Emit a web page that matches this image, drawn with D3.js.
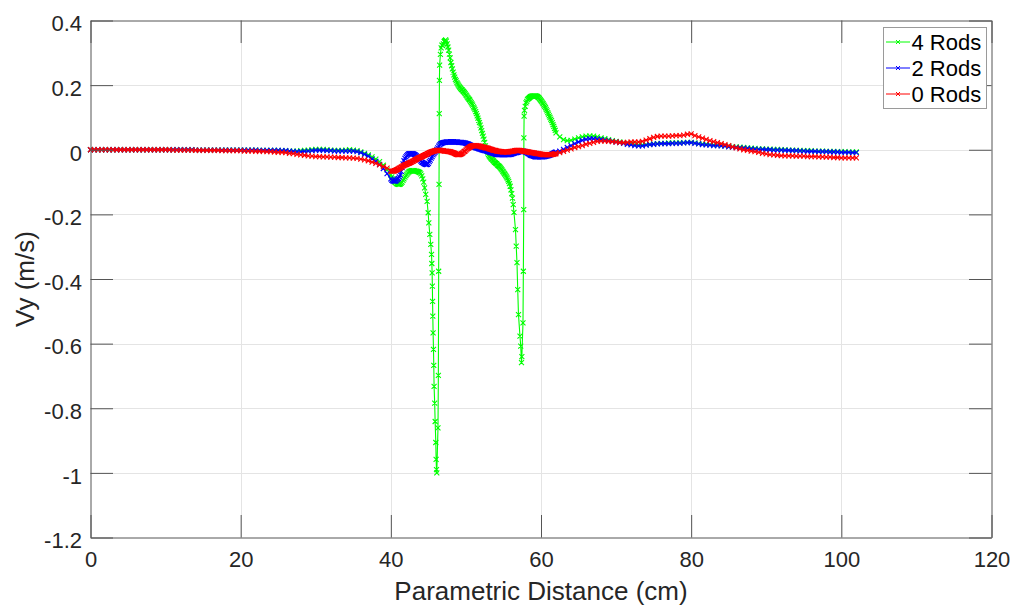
<!DOCTYPE html>
<html>
<head>
<meta charset="utf-8">
<script src="https://cdn.jsdelivr.net/npm/d3@7"></script>
<style>
  body { margin: 0; background: #fff; }
  svg { display: block; font-family: "Liberation Sans", Arial, Helvetica, sans-serif; }
</style>
</head>
<body>
<svg id="chart" width="1016" height="607"></svg>
<script>
// Axis ticks
const xTicks = [0, 20, 40, 60, 80, 100, 120];
const yTicks = [-1.2, -1, -0.8, -0.6, -0.4, -0.2, 0, 0.2, 0.4];

const seriesNames = ["4 Rods", "2 Rods", "0 Rods"];
const seriesColors = ["#00ff00", "#0000ff", "#ff0000"];

// Vy (m/s) sampled every 0.5 cm from 0 to 39.5 cm
const rods4Head = [
  0,0,0,0,0,0,0,0,0,0, 0,0,0,0,0,0,0,0,0,0,
  0,0,0,0,0,0,0,0,-0.001,-0.001, -0.001,-0.001,-0.001,-0.001,-0.001,-0.001,-0.001,-0.001,-0.001,-0.001,
  -0.001,-0.001,-0.001,-0.001,-0.001,-0.002,-0.002,-0.002,-0.002,-0.002, -0.002,-0.003,-0.003,-0.004,-0.004,-0.004,-0.003,-0.002,-0.001,0,
  0.001,0.001,0.001,0,-0.001,-0.002,-0.002,-0.002,-0.001,0, -0.001,-0.003,-0.007,-0.011,-0.016,-0.022,-0.029,-0.037,-0.048,-0.062
];
const rods2Head = [
  0,0,0,0,0,0,0,0,0,0, 0,0,0,0,0,0,0,0,0,0,
  0,0,0,0,0,0,0,0,-0.001,-0.001, -0.001,-0.001,-0.001,-0.001,-0.001,-0.001,-0.001,-0.001,-0.001,-0.001,
  -0.001,-0.001,-0.001,-0.001,-0.001,-0.002,-0.002,-0.002,-0.002,-0.002, -0.002,-0.003,-0.003,-0.004,-0.005,-0.006,-0.006,-0.005,-0.004,-0.003,
  -0.002,-0.002,-0.002,-0.003,-0.003,-0.004,-0.004,-0.004,-0.004,-0.004, -0.004,-0.006,-0.009,-0.014,-0.02,-0.028,-0.036,-0.045,-0.058,-0.074
];
const rods0Head = [
  0,0,0,0,0,0,0,0,0,0, 0,0,0,0,0,0,0,0,0,0,
  0,0,-0.001,-0.001,-0.001,-0.001,-0.001,-0.001,-0.002,-0.002, -0.002,-0.002,-0.002,-0.002,-0.002,-0.003,-0.003,-0.003,-0.003,-0.003,
  -0.003,-0.004,-0.004,-0.004,-0.005,-0.005,-0.005,-0.006,-0.006,-0.007, -0.008,-0.008,-0.009,-0.011,-0.012,-0.014,-0.016,-0.017,-0.019,-0.02,
  -0.021,-0.021,-0.022,-0.022,-0.023,-0.023,-0.024,-0.024,-0.025,-0.025, -0.026,-0.027,-0.029,-0.031,-0.034,-0.038,-0.042,-0.047,-0.052,-0.057
];

// 4 rods, 40 to 44.375 cm, every 0.125 cm
const rods4Entry = [
  -0.078,-0.084,-0.09,-0.095,-0.099,-0.102,-0.105,-0.106,
  -0.107,-0.107,-0.106,-0.103,-0.1,-0.095,-0.09,-0.085,
  -0.08,-0.076,-0.072,-0.069,-0.067,-0.066,-0.065,-0.065,
  -0.065,-0.065,-0.066,-0.066,-0.067,-0.068,-0.069,-0.071,
  -0.075,-0.081,-0.09,-0.1
];
// 4 rods, first dip and recovery: [distance, Vy]
const rods4Dip1 = [
  [44.5,-0.118],[44.65,-0.138],[44.83,-0.16],[44.97,-0.195],[45.06,-0.226],[45.19,-0.262],[45.32,-0.293],[45.42,-0.324],
  [45.46,-0.352],[45.5,-0.381],[45.53,-0.422],[45.56,-0.469],[45.59,-0.515],[45.63,-0.567],[45.68,-0.618],[45.72,-0.667],
  [45.76,-0.732],[45.84,-0.784],[45.9,-0.841],[45.99,-0.906],[46.03,-0.958],[46.08,-0.99],[46.12,-1.0],[46.28,-0.861],
  [46.33,-0.698],[46.37,-0.376],[46.42,-0.107],[46.45,0.112],[46.47,0.215]
];
// 4 rods, 46.5 to 56.3 cm, every 0.1 cm
const rods4Crest = [
  0.262,0.295,0.315,0.324,0.322,0.328,0.335,0.338,0.34,0.336,
  0.328,0.318,0.308,0.296,0.284,0.27,0.26,0.25,0.24,0.232,
  0.225,0.218,0.213,0.208,0.204,0.2,0.196,0.193,0.19,0.187,
  0.185,0.182,0.18,0.177,0.174,0.17,0.167,0.163,0.16,0.157,
  0.154,0.15,0.146,0.142,0.138,0.133,0.129,0.124,0.118,0.112,
  0.105,0.098,0.091,0.084,0.076,0.068,0.059,0.051,0.042,0.033,
  0.023,0.012,0.004,-0.003,-0.01,-0.015,-0.019,-0.022,-0.025,-0.028,
  -0.03,-0.033,-0.035,-0.038,-0.04,-0.042,-0.044,-0.047,-0.049,-0.051,
  -0.053,-0.056,-0.059,-0.062,-0.066,-0.069,-0.073,-0.076,-0.08,-0.084,
  -0.088,-0.093,-0.098,-0.105,-0.113,-0.124,-0.136,-0.15,-0.17
];
// 4 rods, second dip and recovery: [distance, Vy]
const rods4Dip2 = [
  [56.4,-0.194],[56.6,-0.247],[56.7,-0.298],[56.8,-0.349],[56.9,-0.433],[57,-0.51],[57.2,-0.577],[57.3,-0.608],
  [57.4,-0.659],[57.45,-0.64],[57.6,-0.536],[57.65,-0.376],[57.7,-0.185],[57.72,0.037],[57.75,0.104]
];
// 4 rods, 57.8 to 61.9 cm, every 0.1 cm
const rods4Hump = [
  0.122,0.134,0.145,0.15,0.155,0.158,0.16,0.162,0.164,0.165,
  0.166,0.167,0.167,0.167,0.167,0.167,0.166,0.165,0.163,0.161,
  0.158,0.155,0.152,0.149,0.145,0.142,0.138,0.134,0.13,0.125,
  0.12,0.115,0.11,0.105,0.1,0.095,0.09,0.084,0.078,0.072,
  0.066,0.06
];

// 2 rods and 0 rods, 40 to 61.875 cm, every 0.125 cm (one row per cm)
const rods2Mid = [
  -0.09,-0.094,-0.096,-0.097,-0.097,-0.097,-0.095,-0.092,
  -0.089,-0.084,-0.078,-0.067,-0.055,-0.044,-0.034,-0.027,
  -0.022,-0.018,-0.015,-0.013,-0.012,-0.012,-0.012,-0.012,
  -0.013,-0.014,-0.016,-0.018,-0.021,-0.024,-0.028,-0.031,
  -0.035,-0.038,-0.04,-0.042,-0.044,-0.045,-0.046,-0.045,
  -0.042,-0.037,-0.032,-0.026,-0.021,-0.016,-0.012,-0.008,
  -0.004,0.001,0.006,0.011,0.015,0.018,0.02,0.021,
  0.022,0.023,0.023,0.024,0.024,0.024,0.024,0.024,
  0.024,0.024,0.024,0.024,0.024,0.024,0.024,0.024,
  0.023,0.023,0.023,0.023,0.022,0.022,0.021,0.021,
  0.02,0.019,0.018,0.017,0.015,0.014,0.012,0.011,
  0.009,0.008,0.007,0.006,0.005,0.004,0.003,0.002,
  0.001,0,-0.001,-0.002,-0.003,-0.003,-0.004,-0.005,
  -0.006,-0.007,-0.008,-0.009,-0.01,-0.011,-0.012,-0.013,
  -0.014,-0.014,-0.015,-0.015,-0.015,-0.015,-0.015,-0.015,
  -0.015,-0.015,-0.015,-0.015,-0.015,-0.015,-0.015,-0.014,
  -0.014,-0.013,-0.012,-0.011,-0.01,-0.009,-0.009,-0.008,
  -0.007,-0.006,-0.005,-0.004,-0.004,-0.004,-0.005,-0.006,
  -0.008,-0.009,-0.011,-0.013,-0.015,-0.017,-0.018,-0.019,
  -0.02,-0.021,-0.022,-0.022,-0.022,-0.022,-0.022,-0.022,
  -0.022,-0.022,-0.022,-0.021,-0.021,-0.02,-0.02,-0.019,
  -0.018,-0.017,-0.016,-0.014,-0.013,-0.011,-0.01,-0.008
];
const rods0Mid = [
  -0.066,-0.066,-0.066,-0.066,-0.065,-0.064,-0.062,-0.061,
  -0.059,-0.057,-0.056,-0.054,-0.052,-0.05,-0.049,-0.047,
  -0.046,-0.045,-0.043,-0.042,-0.041,-0.039,-0.038,-0.036,
  -0.035,-0.033,-0.031,-0.03,-0.028,-0.026,-0.025,-0.024,
  -0.023,-0.021,-0.02,-0.018,-0.017,-0.015,-0.014,-0.012,
  -0.011,-0.009,-0.008,-0.007,-0.006,-0.005,-0.004,-0.003,
  -0.003,-0.002,-0.002,-0.002,-0.002,-0.002,-0.003,-0.003,
  -0.003,-0.004,-0.004,-0.004,-0.005,-0.005,-0.006,-0.006,
  -0.007,-0.008,-0.009,-0.01,-0.011,-0.013,-0.014,-0.015,
  -0.015,-0.015,-0.014,-0.013,-0.011,-0.009,-0.006,-0.004,
  -0.001,0.002,0.004,0.006,0.008,0.01,0.011,0.012,
  0.013,0.013,0.013,0.013,0.012,0.012,0.011,0.011,
  0.01,0.009,0.008,0.008,0.007,0.006,0.006,0.005,
  0.004,0.003,0.002,0.001,0,-0.001,-0.002,-0.002,
  -0.003,-0.004,-0.004,-0.005,-0.005,-0.006,-0.006,-0.007,
  -0.007,-0.007,-0.007,-0.007,-0.007,-0.007,-0.006,-0.006,
  -0.005,-0.005,-0.004,-0.004,-0.003,-0.003,-0.002,-0.002,
  -0.002,-0.002,-0.003,-0.003,-0.004,-0.004,-0.005,-0.005,
  -0.006,-0.006,-0.007,-0.007,-0.008,-0.008,-0.009,-0.009,
  -0.01,-0.01,-0.011,-0.011,-0.012,-0.012,-0.013,-0.013,
  -0.014,-0.014,-0.015,-0.015,-0.015,-0.015,-0.015,-0.015,
  -0.015,-0.015,-0.015,-0.015,-0.014,-0.014,-0.013,-0.013
];

// Vy sampled every 0.5 cm from 62 to 102 cm
const rods4Tail = [
  0.052,0.04,0.031,0.028,0.029,0.033,0.037,0.04,0.042,0.043,
  0.042,0.04,0.037,0.034,0.031,0.028,0.026,0.024,0.022,0.02,
  0.018,0.016,0.015,0.015,0.016,0.017,0.018,0.019,0.02,0.02,
  0.021,0.021,0.021,0.022,0.022,0.023,0.023,0.021,0.019,0.018,
  0.017,0.016,0.015,0.014,0.013,0.012,0.011,0.01,0.009,0.008,
  0.007,0.006,0.005,0.004,0.003,0.003,0.002,0.002,0.001,0.001,
  0,0,-0.001,-0.001,-0.002,-0.002,-0.003,-0.003,-0.003,-0.004,
  -0.004,-0.004,-0.005,-0.005,-0.005,-0.006,-0.006,-0.006,-0.007,-0.007,
  -0.007
];
const rods2Tail = [
  -0.007,-0.004,0.001,0.007,0.013,0.019,0.024,0.029,0.032,0.034,
  0.034,0.033,0.032,0.03,0.028,0.026,0.024,0.022,0.02,0.017,
  0.015,0.013,0.012,0.012,0.014,0.016,0.017,0.018,0.019,0.019,
  0.019,0.02,0.02,0.02,0.021,0.022,0.022,0.02,0.018,0.016,
  0.015,0.014,0.013,0.013,0.012,0.011,0.009,0.008,0.007,0.006,
  0.005,0.004,0.003,0.002,0.001,0.001,0,0,-0.001,-0.001,
  -0.001,-0.002,-0.002,-0.003,-0.003,-0.004,-0.004,-0.005,-0.005,-0.005,
  -0.006,-0.006,-0.006,-0.007,-0.007,-0.007,-0.008,-0.008,-0.008,-0.009,
  -0.009
];
const rods0Tail = [
  -0.012,-0.009,-0.005,-0.001,0.003,0.007,0.01,0.013,0.017,0.02,
  0.023,0.026,0.027,0.027,0.026,0.025,0.024,0.022,0.022,0.023,
  0.024,0.024,0.024,0.026,0.03,0.034,0.038,0.041,0.042,0.042,
  0.042,0.043,0.044,0.044,0.045,0.048,0.049,0.044,0.04,0.036,
  0.032,0.028,0.025,0.022,0.019,0.016,0.013,0.009,0.006,0.003,
  0,-0.002,-0.004,-0.006,-0.008,-0.011,-0.013,-0.015,-0.016,-0.017,
  -0.018,-0.019,-0.019,-0.019,-0.02,-0.02,-0.02,-0.021,-0.021,-0.021,
  -0.022,-0.022,-0.023,-0.023,-0.024,-0.024,-0.025,-0.025,-0.025,-0.025,
  -0.025
];

// ---- helpers -------------------------------------------------------------
// pair each value with its distance along an evenly sampled run
const sampled = (start, step, values) => values.map((v, i) => [+(start + i * step).toFixed(3), v]);

const series = [
  [].concat(
    sampled(0, 0.5, rods4Head), sampled(40, 0.125, rods4Entry), rods4Dip1,
    sampled(46.5, 0.1, rods4Crest), rods4Dip2, sampled(57.8, 0.1, rods4Hump),
    sampled(62, 0.5, rods4Tail)),
  [].concat(sampled(0, 0.5, rods2Head), sampled(40, 0.125, rods2Mid), sampled(62, 0.5, rods2Tail)),
  [].concat(sampled(0, 0.5, rods0Head), sampled(40, 0.125, rods0Mid), sampled(62, 0.5, rods0Tail))
];

// ---- layout ----------------------------------------------------------------
const L = 90.5, R = 991.5, T = 20.5, B = 537.5;
const TICK = 22.5;
const axisColor = "#555555";
const textColor = "#262626";

const x = d3.scaleLinear().domain([0, 120]).range([L, R]);
const y = d3.scaleLinear().domain([-1.2, 0.4]).range([B, T]);

const svg = d3.select("#chart");
svg.append("rect").attr("width", 1016).attr("height", 607).attr("fill", "#fff");

// grid
const grid = svg.append("g").attr("stroke", "#e4e4e4").attr("stroke-width", 1);
grid.selectAll("line.gx").data(xTicks.slice(1, -1)).join("line")
  .attr("x1", d => Math.round(x(d)) + 0.5).attr("x2", d => Math.round(x(d)) + 0.5)
  .attr("y1", T).attr("y2", B);
grid.selectAll("line.gy").data(yTicks.slice(1, -1)).join("line")
  .attr("y1", d => Math.round(y(d)) + 0.5).attr("y2", d => Math.round(y(d)) + 0.5)
  .attr("x1", L).attr("x2", R);

// series: line then x-markers, drawn in legend order
const line = d3.line().x(d => x(d[0])).y(d => y(d[1]));
const xMark = (px, py, s) =>
  `M${px - s},${py - s}L${px + s},${py + s}M${px - s},${py + s}L${px + s},${py - s}`;
const plot = svg.append("g");
series.forEach((pts, i) => {
  const g = plot.append("g");
  g.append("path").attr("d", line(pts))
    .attr("fill", "none").attr("stroke", seriesColors[i]).attr("stroke-width", 1.1);
  g.append("path").attr("d", pts.map(p => xMark(x(p[0]), y(p[1]), 2.5)).join(""))
    .attr("fill", "none").attr("stroke", seriesColors[i]).attr("stroke-width", 1.1);
});

// axes (inward ticks on all four sides)
const styleAxis = g => {
  g.select(".domain").attr("stroke", axisColor);
  g.selectAll(".tick line").attr("stroke", axisColor);
  g.selectAll(".tick text").attr("fill", textColor).attr("font-size", 22)
    .attr("font-family", '"Liberation Sans", Arial, Helvetica, sans-serif');
};

svg.append("g").attr("transform", `translate(0,${B})`)
  .call(d3.axisBottom(x).tickValues(xTicks).tickFormat(d => String(d))
    .tickSizeInner(-TICK).tickSizeOuter(0).tickPadding(14))
  .call(styleAxis);

svg.append("g").attr("transform", `translate(${L},0)`)
  .call(d3.axisLeft(y).tickValues(yTicks).tickFormat(d => String(d))
    .tickSizeInner(-TICK).tickSizeOuter(0).tickPadding(8.5))
  .call(styleAxis)
  .call(g => g.selectAll(".tick text").attr("dy", "0.47em"));

svg.append("g").attr("transform", `translate(0,${T})`)
  .call(d3.axisTop(x).tickValues(xTicks).tickFormat("").tickSizeInner(-TICK).tickSizeOuter(0))
  .call(styleAxis);

svg.append("g").attr("transform", `translate(${R},0)`)
  .call(d3.axisRight(y).tickValues(yTicks).tickFormat("").tickSizeInner(-TICK).tickSizeOuter(0))
  .call(styleAxis);

// axis titles
svg.append("text")
  .attr("x", (L + R) / 2).attr("y", 600)
  .attr("text-anchor", "middle").attr("font-size", 26).attr("fill", textColor)
  .text("Parametric Distance (cm)");

svg.append("text")
  .attr("transform", `translate(34,${(T + B) / 2}) rotate(-90)`)
  .attr("text-anchor", "middle").attr("font-size", 26).attr("fill", textColor)
  .text("Vy (m/s)");

// legend
const lg = svg.append("g");
lg.append("rect").attr("x", 883.5).attr("y", 27.5).attr("width", 103).attr("height", 81)
  .attr("fill", "#fff").attr("stroke", "#9a9a9a").attr("stroke-width", 1);
seriesNames.forEach((name, i) => {
  const cy = 42 + i * 26;
  const row = lg.append("g");
  row.append("line").attr("x1", 886).attr("x2", 910).attr("y1", cy).attr("y2", cy)
    .attr("stroke", seriesColors[i]).attr("stroke-width", 1);
  row.append("path").attr("d", xMark(898, cy, 2))
    .attr("stroke", seriesColors[i]).attr("stroke-width", 1).attr("fill", "none");
  row.append("text").attr("x", 911.5).attr("y", cy + 7.5)
    .attr("font-size", 22).attr("fill", "#000").text(name);
});
</script>
</body>
</html>
